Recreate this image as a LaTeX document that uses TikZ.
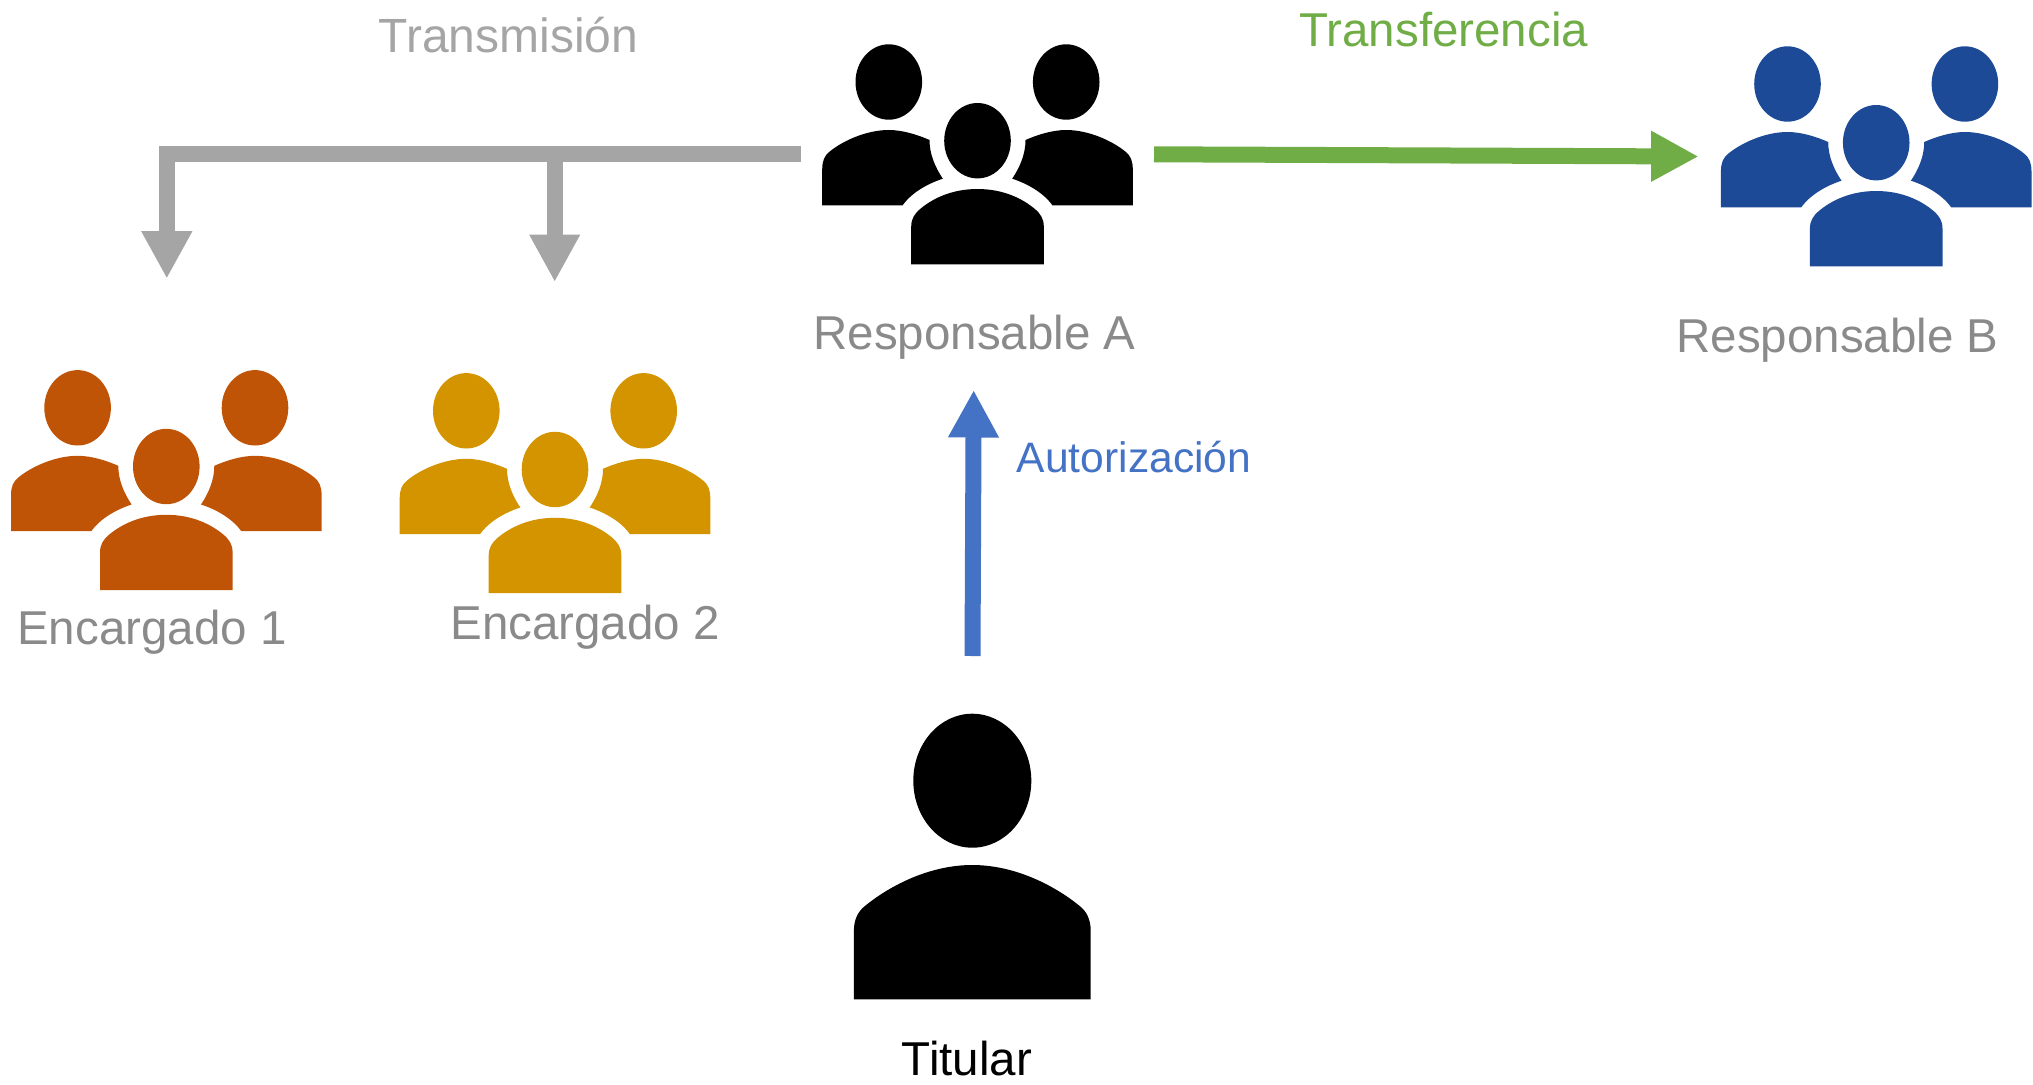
\documentclass[tikz,border=0pt]{standalone}
\usepackage{fontspec}
\setmainfont{Liberation Sans}
\usetikzlibrary{arrows.meta}
\definecolor{cgray}{HTML}{A5A5A5}
\definecolor{cgreen}{HTML}{70AD47}
\definecolor{cblue}{HTML}{4472C4}
\definecolor{corange}{HTML}{BF5407}
\definecolor{cyellow}{HTML}{D39400}
\definecolor{cnavy}{HTML}{1C4A97}
\definecolor{ctext}{HTML}{8A8A8A}
\tikzset{
  x=1pt,y=-1pt,
  label text/.style={inner sep=0pt,anchor=base,text=ctext,font=\fontsize{47.5}{50}\selectfont},
  big head/.style={-{Triangle[length=47.5pt,width=47.5pt]},line width=16pt},
  pics/group/.style={code={
    \fill[#1] (0,0) ellipse [x radius=33.3,y radius=37.7];
    \fill[#1] (-66.3,123.7) -- (-66.3,86) .. controls (-66.3,78) and (-63,73) .. (-57,68)
      .. controls (-45,58) and (-26,48.3) .. (0,48.3)
      .. controls (26,48.3) and (45,58) .. (57,68)
      .. controls (63,73) and (66.3,78) .. (66.3,86) -- (66.3,123.7) -- cycle;
    \foreach \s in {1,-1}{
      \fill[#1,xscale=\s] (-88.7,-58.7) ellipse [x radius=33.3,y radius=37.7];
      \fill[#1,xscale=\s] (-155.3,64.7) -- (-155.3,29) .. controls (-155.3,20) and (-153,15) .. (-148,11)
        .. controls (-136,1) and (-112,-10.7) .. (-88.7,-10.7)
        .. controls (-75,-10.7) and (-60,-6) .. (-48,-0.7)
        .. controls (-48,14) and (-42,27) .. (-34.7,38)
        .. controls (-50,43) and (-66,52) .. (-75,64.7) -- cycle;
    }
  }},
  pics/single/.style={code={
    \fill[#1] (0,0) ellipse [x radius=59,y radius=67];
    \fill[#1] (-118.4,218.6) -- (-118.4,150) .. controls (-118.4,140) and (-115,131) .. (-107,125)
      .. controls (-85,107) and (-45,84.3) .. (0,84.3)
      .. controls (45,84.3) and (85,107) .. (107,125)
      .. controls (115,131) and (118.4,140) .. (118.4,150) -- (118.4,218.6) -- cycle;
  }}
}
\begin{document}
\begin{tikzpicture}
\path[use as bounding box] (0,0) rectangle (2033,1084);
% icons
\pic at (977.5,140.7) {group=black};
\pic at (1876.2,142.7) {group=cnavy};
\pic at (166.3,466.5) {group=corange};
\pic at (555,469.5) {group=cyellow};
\pic at (972.3,780.7) {single=black};
% labels
\node[label text] (respA) at (974.5,349.5) {Responsable A};
\node[label text] (respB) at (1837.5,352) {Responsable B};
\node[label text] (enc1) at (152,644) {Encargado 1};
\node[label text] (enc2) at (585,639.5) {Encargado 2};
\node[label text,text=black] (titular) at (967,1075.7) {Titular};
\node[label text,text=cgray,font=\fontsize{48}{50}\selectfont] (transm) at (508.5,52) {Transmisi\'on};
\node[label text,text=cgreen] (transf) at (1443.7,46) {Transferencia};
\node[label text,text=cblue,font=\fontsize{42.6}{46}\selectfont] (autor) at (1134,472) {Autorizaci\'on};
% connector ends
\coordinate (grayStart) at (801,154.3);
\coordinate (grayCorner) at (166.8,154.3);
\coordinate (grayEnd1) at (166.8,278.7);
\coordinate (grayBranch) at (554.7,154.3);
\coordinate (grayEnd2) at (554.7,282);
\coordinate (greenStart) at (1154,154.3);
\coordinate (greenEnd) at (1698.6,156.5);
\coordinate (blueStart) at (972.5,656);
\coordinate (blueEnd) at (973.7,390);
% connectors
\draw[big head,cgray] (grayStart) -- (grayCorner) -- (grayEnd1);
\draw[big head,cgray] (grayBranch) -- (grayEnd2);
\draw[big head,cgreen] (greenStart) -- (greenEnd);
\draw[big head,cblue] (blueStart) -- (blueEnd);
\end{tikzpicture}
\end{document}
